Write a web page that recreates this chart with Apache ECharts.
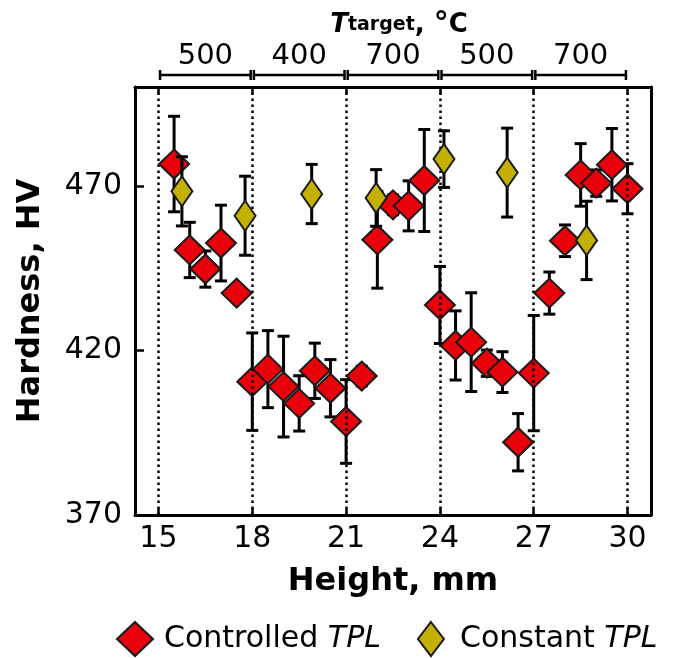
<!DOCTYPE html>
<html>
<head>
<meta charset="utf-8">
<script src="https://cdn.jsdelivr.net/npm/echarts@6/dist/echarts.min.js"></script>
<style>
  html, body { margin: 0; padding: 0; background: #fff; }
  #chart { width: 675px; height: 658px; }
</style>
</head>
<body>
<div id="chart"></div>
<script>
// ---- data ----
const controlledX = [15.5, 16, 16.5, 17, 17.5, 18, 18.5, 19, 19.5, 20, 20.5, 21, 21.5, 22, 22.5, 23, 23.5, 24, 24.5, 25, 25.5, 26, 26.5, 27, 27.5, 28, 28.5, 29, 29.5, 30];
const controlledHV = [476.6, 450.5, 444.7, 452.6, 437.4, 410.5, 414.3, 409.0, 403.9, 413.8, 408.5, 398.4, 412.2, 453.6, 464.2, 463.9, 471.6, 433.8, 421.5, 422.5, 416.1, 413.4, 392.1, 413.1, 437.4, 453.3, 473.3, 470.8, 476.4, 469.1];
const controlledErr = [14.5, 8.4, 5.5, 11.5, 2, 14.8, 11.7, 15.3, 8.4, 8.4, 8.7, 12.7, 3, 14.7, 3, 7.6, 15.5, 11.7, 10.5, 15, 4, 6.2, 8.7, 17.5, 6.4, 4.8, 9.5, 4, 11, 7.6];

const constantX = [15.75, 17.77, 19.9, 21.96, 24.13, 26.15, 28.69];
const constantHV = [468.3, 460.9, 467.5, 466.3, 478.1, 474.0, 453.4];
const constantErr = [10.5, 12, 9, 8.6, 8.6, 13.5, 11.9];

const xTickValues = [15, 18, 21, 24, 27, 30];
const yTickValues = [370, 420, 470];

const segStart = [15, 18, 21, 24, 27];
const segEnd = [18, 21, 24, 27, 30];
const segLabels = ['500', '400', '700', '500', '700'];

// ---- styles ----
const FONT = 'DejaVu Sans';
const RED = '#e8000b';
const OLIVE = '#c4b000';
const EDGE = '#1a1a1a';

const redPts = controlledX.map((x, i) => [x, controlledHV[i]]);
const redErr = controlledX.map((x, i) => [x, controlledHV[i], controlledErr[i]]);
const oliPts = constantX.map((x, i) => [x, constantHV[i]]);
const oliErr = constantX.map((x, i) => [x, constantHV[i], constantErr[i]]);
const segData = segStart.map((s, i) => [s, segEnd[i]]);

function errRender(params, api) {
  const x = api.value(0), y = api.value(1), e = api.value(2);
  const top = api.coord([x, y + e]);
  const bot = api.coord([x, y - e]);
  const hw = 6;
  const st = { stroke: '#000', lineWidth: 3 };
  return {
    type: 'group',
    children: [
      { type: 'line', shape: { x1: top[0], y1: top[1], x2: bot[0], y2: bot[1] }, style: st },
      { type: 'line', shape: { x1: top[0] - hw, y1: top[1], x2: top[0] + hw, y2: top[1] }, style: st },
      { type: 'line', shape: { x1: bot[0] - hw, y1: bot[1], x2: bot[0] + hw, y2: bot[1] }, style: st }
    ]
  };
}

function segRender(params, api) {
  const gTop = params.coordSys.y;
  const x0 = api.coord([api.value(0), 0])[0] + 1.6;
  const x1 = api.coord([api.value(1), 0])[0] - 1.6;
  const ly = gTop - 12;
  const st = { stroke: '#000', lineWidth: 2.5 };
  return {
    type: 'group',
    children: [
      { type: 'line', shape: { x1: x0, y1: ly, x2: x1, y2: ly }, style: st },
      { type: 'line', shape: { x1: x0, y1: ly - 5, x2: x0, y2: ly + 5 }, style: st },
      { type: 'line', shape: { x1: x1, y1: ly - 5, x2: x1, y2: ly + 5 }, style: st },
      { type: 'text', style: { text: segLabels[params.dataIndex], x: (x0 + x1) / 2, y: gTop - 31,
          align: 'center', verticalAlign: 'middle', fontSize: 29, fontFamily: FONT, fill: '#000' } }
    ]
  };
}

const chart = echarts.init(document.getElementById('chart'), null, { renderer: 'canvas' });
chart.setOption({
  animation: false,
  backgroundColor: '#fff',
  title: {
    left: 394, top: 5, textAlign: 'center',
    text: '{t|T}{s|target}{c|, }{d|°}{c|C}',
    textStyle: {
      rich: {
        t: { fontSize: 26, fontWeight: 'bold', fontStyle: 'italic', fontFamily: FONT, color: '#000' },
        s: { fontSize: 19, fontWeight: 'bold', fontFamily: FONT, color: '#000' },
        c: { fontSize: 26, fontWeight: 'bold', fontFamily: FONT, color: '#000' },
        d: { fontSize: 30, fontWeight: 'bold', fontFamily: FONT, color: '#000' }
      }
    }
  },
  grid: { left: 135, right: 24, top: 87, bottom: 143, containLabel: false },
  legend: {
    left: 111, top: 616,
    itemWidth: 36, itemHeight: 34, itemGap: 36,
    formatter: function (name) { return '{n|' + name.replace(' TPL', '') + ' }{i|TPL}'; },
    textStyle: {
      rich: {
        n: { fontSize: 30, fontFamily: FONT, color: '#000', padding: [0, 0, 0, 6] },
        i: { fontSize: 30, fontFamily: FONT, fontStyle: 'italic', color: '#000' }
      }
    },
    data: [
      { name: 'Controlled TPL', icon: 'path://M18,0L36,17L18,34L0,17Z', itemStyle: { color: RED, borderColor: EDGE, borderWidth: 2 } },
      { name: 'Constant TPL', icon: 'path://M13,0L26,17L13,34L0,17Z', itemStyle: { color: OLIVE, borderColor: EDGE, borderWidth: 2 } }
    ]
  },
  xAxis: [
    {
      type: 'value', position: 'bottom', min: 14.25, max: 30.75,
      name: 'Height, mm', nameLocation: 'middle', nameGap: 51,
      nameTextStyle: { fontSize: 32, fontWeight: 'bold', fontFamily: FONT, color: '#000' },
      axisLine: { show: true, lineStyle: { color: '#000', width: 3 } },
      axisTick: { show: true, inside: true, length: 7, customValues: xTickValues, lineStyle: { color: '#000', width: 2.5 } },
      axisLabel: { show: true, customValues: xTickValues, margin: 9, fontSize: 30, fontFamily: FONT, color: '#000' },
      splitLine: { show: false }
    },
    {
      type: 'value', position: 'top', min: 14.25, max: 30.75,
      axisLine: { show: true, lineStyle: { color: '#000', width: 3 } },
      axisTick: { show: true, inside: true, length: 7, customValues: xTickValues, lineStyle: { color: '#000', width: 2.5 } },
      axisLabel: { show: false },
      splitLine: { show: false }
    }
  ],
  yAxis: [
    {
      type: 'value', position: 'left', min: 370, max: 500,
      name: 'Hardness, HV', nameLocation: 'middle', nameGap: 88,
      nameTextStyle: { fontSize: 32, fontWeight: 'bold', fontFamily: FONT, color: '#000' },
      axisLine: { show: true, lineStyle: { color: '#000', width: 3 } },
      axisTick: { show: true, inside: true, length: 9, customValues: yTickValues, lineStyle: { color: '#000', width: 2.5 } },
      axisLabel: { show: true, customValues: yTickValues, margin: 13, fontSize: 30, fontFamily: FONT, color: '#000' },
      splitLine: { show: false }
    },
    {
      type: 'value', position: 'right', min: 370, max: 500,
      axisLine: { show: true, lineStyle: { color: '#000', width: 3 } },
      axisTick: { show: false }, axisLabel: { show: false }, splitLine: { show: false }
    }
  ],
  series: [
    {
      type: 'custom', name: 'segments', renderItem: segRender, data: segData,
      encode: { x: [0, 1] }, clip: false, silent: true, z: 1
    },
    {
      type: 'custom', name: 'redErr', renderItem: errRender, data: redErr,
      encode: { x: 0, y: [1] }, silent: true, z: 2,
      markLine: {
        silent: true, symbol: ['none', 'none'], label: { show: false },
        lineStyle: { color: '#000', width: 2.5, type: [2.5, 3.5] },
        data: xTickValues.map(v => ({ xAxis: v }))
      }
    },
    {
      type: 'scatter', name: 'Controlled TPL', data: redPts, symbol: 'diamond', symbolSize: [30, 29],
      itemStyle: { color: RED, borderColor: EDGE, borderWidth: 2, opacity: 1 }, z: 3
    },
    {
      type: 'custom', name: 'oliErr', renderItem: errRender, data: oliErr,
      encode: { x: 0, y: [1] }, silent: true, z: 4
    },
    {
      type: 'scatter', name: 'Constant TPL', data: oliPts, symbol: 'diamond', symbolSize: [21, 30],
      itemStyle: { color: OLIVE, borderColor: EDGE, borderWidth: 2, opacity: 1 }, z: 5
    }
  ]
});
</script>
</body>
</html>
